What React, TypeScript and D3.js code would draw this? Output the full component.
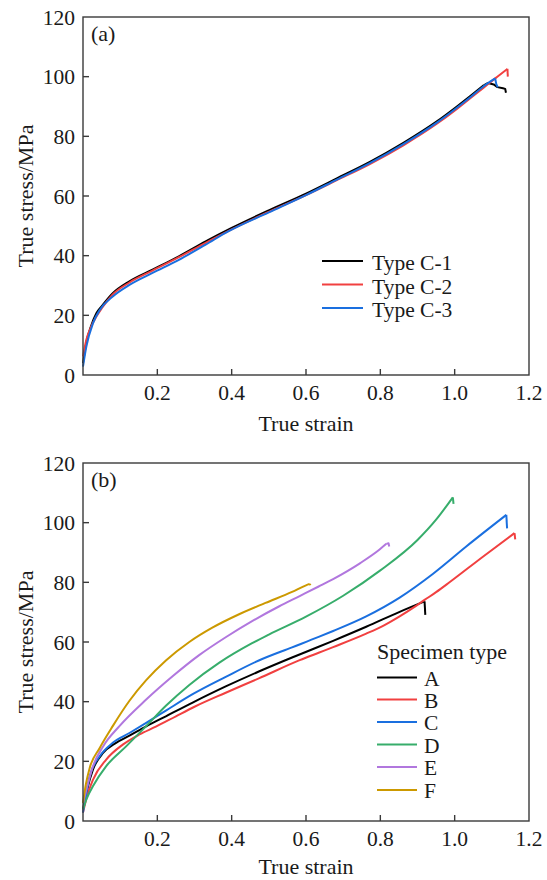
import React from "react";
import * as d3 from "d3";

type Pt = [number, number];

// ---------- Panel (a) data: [true strain, true stress MPa] ----------
const typeC1: Pt[] = [[0,4],[0.005,8],[0.01,11.5],[0.02,15.8],[0.036,20.7],[0.05,23],[0.08,27.4],[0.125,31.4],[0.187,35.3],[0.258,39.8],[0.33,44.8],[0.4,49.3],[0.5,55.2],[0.6,60.8],[0.683,65.9],[0.773,71.5],[0.862,77.8],[0.952,85],[1.006,90],[1.042,93.5],[1.078,97.1],[1.09,97.9],[1.105,97.4],[1.115,96.5],[1.13,96.1],[1.136,95.9],[1.138,94.6]];
const typeC2: Pt[] = [[0,6.2],[0.009,11.8],[0.022,16.2],[0.036,19.6],[0.05,22.3],[0.08,27],[0.125,31],[0.187,35],[0.258,39.5],[0.33,44.3],[0.4,48.8],[0.5,54.7],[0.6,60.3],[0.683,65.3],[0.773,70.8],[0.862,77],[0.952,84.2],[1.006,89.2],[1.042,92.8],[1.078,96.3],[1.11,99.5],[1.142,102.6],[1.143,100]];
const typeC3: Pt[] = [[0,2.8],[0.009,9.5],[0.027,17.4],[0.045,21.8],[0.08,26.3],[0.125,30.2],[0.187,34.2],[0.258,38.6],[0.33,43.7],[0.392,48.2],[0.5,54.5],[0.6,60.3],[0.683,65.5],[0.773,71.1],[0.862,77.4],[0.952,84.6],[1.006,89.6],[1.042,93.1],[1.078,96.8],[1.109,99.4],[1.112,97.5],[1.116,96.4]];
const hooksA = [6, 1, 2];
const seriesA_names = ["Type C-1", "Type C-2", "Type C-3"];
const seriesA_colors = ["#000000", "#F14040", "#1A6FDF"];
const seriesA = [typeC1, typeC2, typeC3];

// ---------- Panel (b) data ----------
const specA: Pt[] = [[0,3.9],[0.01,10],[0.027,17.3],[0.054,22.8],[0.089,26.2],[0.125,28.6],[0.17,31.7],[0.223,35.1],[0.295,39.7],[0.384,45.1],[0.473,50.1],[0.5625,54.8],[0.634,58.4],[0.673,60.4],[0.762,65.1],[0.852,70.1],[0.919,73.6],[0.921,69.1]];
const specB: Pt[] = [[0,2.8],[0.01,8],[0.027,13.9],[0.0625,20.6],[0.107,25.6],[0.152,29],[0.196,31.6],[0.25,35.1],[0.3,38.3],[0.384,43],[0.473,47.8],[0.583,53.9],[0.634,56.4],[0.673,58.3],[0.762,62.8],[0.81,65.6],[0.852,68.6],[0.89,71.6],[0.919,74.1],[0.95,76.7],[0.987,80.1],[1.076,88.6],[1.161,96.5],[1.163,94.4]];
const specC: Pt[] = [[0,2.8],[0.01,10],[0.018,15],[0.045,21.7],[0.08,26.2],[0.125,29.5],[0.17,32.9],[0.223,37],[0.295,42.5],[0.384,48.3],[0.473,53.8],[0.5625,58.2],[0.634,61.7],[0.673,63.7],[0.762,68.6],[0.852,74.9],[0.942,82.9],[1.032,92.1],[1.139,102.6],[1.141,98.1]];
const specD: Pt[] = [[0,3.9],[0.01,7.5],[0.027,11.7],[0.0625,18.4],[0.116,25],[0.17,31.8],[0.223,38.6],[0.286,45.6],[0.366,53],[0.455,59.6],[0.5,62.5],[0.6,68.5],[0.7,75.5],[0.8,84],[0.9,94.2],[0.95,101],[0.995,108.5],[0.997,106.3]];
const specE: Pt[] = [[0,6],[0.01,11],[0.027,18.4],[0.054,25],[0.098,31.8],[0.17,40.7],[0.241,48.5],[0.3125,55.6],[0.384,61.6],[0.455,67],[0.527,71.9],[0.583,75.4],[0.634,78.6],[0.673,81.1],[0.744,86.3],[0.798,91],[0.816,92.9],[0.822,93.1],[0.824,92]];
const specF: Pt[] = [[0,6.1],[0.008,12.5],[0.018,17.8],[0.045,24.5],[0.08,31.8],[0.125,40.3],[0.17,47.2],[0.223,53.8],[0.286,60],[0.348,64.8],[0.42,69.3],[0.491,73.1],[0.5625,76.8],[0.6,79],[0.61,79.5],[0.612,79]];
const hooksB = [1, 1, 1, 1, 2, 1];
const seriesB_names = ["A", "B", "C", "D", "E", "F"];
const seriesB_colors = ["#000000", "#F14040", "#1A6FDF", "#37AD6B", "#B177DE", "#CC9900"];
const seriesB = [specA, specB, specC, specD, specE, specF];

const xTicks = [0.2, 0.4, 0.6, 0.8, 1.0, 1.2];
const yTicks = [0, 20, 40, 60, 80, 100, 120];

const FONT = "'Liberation Serif', 'Times New Roman', serif";
const FRAME = "#3a3a3a";
const INK = "#1a1a1a";

function Panel(props: {
  top: number; bottom: number; label: string;
  series: Pt[][]; hooks: number[]; colors: string[]; names: string[];
  legend: { lineX0: number; lineX1: number; textX: number; rows: number[]; title?: string; titleX?: number; titleY?: number; base: number };
}) {
  const left = 83, right = 529;
  const x = d3.scaleLinear().domain([0, 1.2]).range([left, right]);
  const y = d3.scaleLinear().domain([0, 120]).range([props.bottom, props.top]);
  const smooth = d3.line<Pt>().x(d => x(d[0])).y(d => y(d[1])).curve(d3.curveMonotoneX);
  const straight = d3.line<Pt>().x(d => x(d[0])).y(d => y(d[1]));
  const midY = (props.top + props.bottom) / 2;
  const lg = props.legend;
  return (
    <g>
      {props.series.map((s, i) => {
        const n = s.length - props.hooks[i];
        const body = s.slice(0, n);
        const hook = s.slice(n - 1);
        return (
          <g key={i}>
            <path d={smooth(body) || ""} fill="none" stroke={props.colors[i]} strokeWidth={2} strokeLinejoin="round" />
            <path d={straight(hook) || ""} fill="none" stroke={props.colors[i]} strokeWidth={2} strokeLinejoin="round" />
          </g>
        );
      })}
      <rect x={left} y={props.top} width={right - left} height={props.bottom - props.top} fill="none" stroke={FRAME} strokeWidth={1.4} />
      {xTicks.filter(t => t < 1.2).map(t => (
        <line key={"xt" + t} x1={x(t)} x2={x(t)} y1={props.bottom} y2={props.bottom - 6} stroke={FRAME} strokeWidth={1.4} />
      ))}
      {yTicks.filter(t => t > 0 && t < 120).map(t => (
        <line key={"yt" + t} x1={left} x2={left + 6} y1={y(t)} y2={y(t)} stroke={FRAME} strokeWidth={1.4} />
      ))}
      {xTicks.map(t => (
        <text key={"xl" + t} x={x(t)} y={props.bottom + 25} textAnchor="middle" fontFamily={FONT} fontSize={21.5} fill={INK}>{t.toFixed(1)}</text>
      ))}
      {yTicks.map(t => (
        <text key={"yl" + t} x={75} y={y(t) + 7.5} textAnchor="end" fontFamily={FONT} fontSize={21.5} fill={INK}>{t}</text>
      ))}
      <text x={(left + right) / 2} y={Math.min(props.bottom + 56, 874)} textAnchor="middle" fontFamily={FONT} fontSize={22} fill={INK}>True strain</text>
      <text transform={`translate(33, ${midY}) rotate(-90)`} textAnchor="middle" fontFamily={FONT} fontSize={22} fill={INK}>True stress/MPa</text>
      <text x={91} y={props.top + 24} fontFamily={FONT} fontSize={22} fill={INK}>{props.label}</text>
      {lg.title && (
        <text x={lg.titleX} y={lg.titleY} fontFamily={FONT} fontSize={22} fill={INK}>{lg.title}</text>
      )}
      {props.names.map((n, i) => (
        <g key={"lg" + i}>
          <line x1={lg.lineX0} x2={lg.lineX1} y1={lg.rows[i]} y2={lg.rows[i]} stroke={props.colors[i]} strokeWidth={2} />
          <text x={lg.textX} y={lg.rows[i] + lg.base} fontFamily={FONT} fontSize={21.5} fill={INK}>{n}</text>
        </g>
      ))}
    </g>
  );
}

export default function App() {
  return (
    <svg width={547} height={880} style={{ position: "absolute", left: 0, top: 0, background: "#fff" }}>
      <rect x={0} y={0} width={547} height={880} fill="#fff" />
      <Panel top={17} bottom={375} label="(a)" series={seriesA} hooks={hooksA} colors={seriesA_colors} names={seriesA_names}
        legend={{ lineX0: 322, lineX1: 363, textX: 372, rows: [261, 284.5, 308], base: 9 }} />
      <Panel top={463} bottom={821} label="(b)" series={seriesB} hooks={hooksB} colors={seriesB_colors} names={seriesB_names}
        legend={{ lineX0: 377, lineX1: 417, textX: 424, rows: [677.5, 699.5, 722, 744.5, 767, 790], base: 8, title: "Specimen type", titleX: 377, titleY: 659 }} />
    </svg>
  );
}
